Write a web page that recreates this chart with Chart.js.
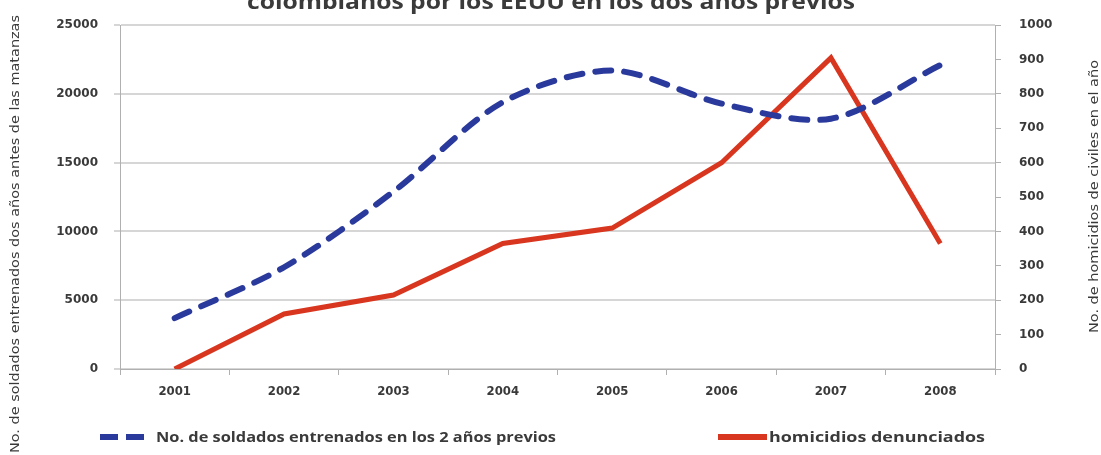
<!DOCTYPE html>
<html>
<head>
<meta charset="utf-8">
<script src="https://cdn.jsdelivr.net/npm/chart.js@4.4.0/dist/chart.umd.min.js"></script>
<style>
  body { margin: 0; background: #fff; }
  #wrap { width: 1101px; height: 455px; }
</style>
</head>
<body>
<div id="wrap"><canvas id="lineChart" width="1101" height="455"></canvas></div>
<script>
const years = ['2001', '2002', '2003', '2004', '2005', '2006', '2007', '2008'];
const soldados = [3700, 7400, 12900, 19400, 21700, 19300, 18200, 22100];
const homicidios = [0, 160, 215, 365, 410, 600, 905, 365];
const soldadosLabel = 'No. de soldados entrenados en los 2 años previos';
const homicidiosLabel = 'homicidios denunciados';
const titleText = 'colombianos por los EEUU en los dos años previos';
const leftTitle = 'No. de soldados entrenados dos años antes de las matanzas';
const rightTitle = 'No. de homicidios de civiles en el año';

const blue = '#2a3a9c';
const red = '#d8361f';
const textColor = '#3a3a3a';

// draw text stretched/squeezed to a given width
function fitText(ctx, text, x, y, width) {
  const w = ctx.measureText(text).width;
  ctx.save();
  ctx.translate(x, y);
  ctx.scale(width / w, 1);
  ctx.fillText(text, 0, 0);
  ctx.restore();
}

const extraText = {
  id: 'extraText',
  afterDraw(chart) {
    const ctx = chart.ctx;
    ctx.save();
    ctx.fillStyle = textColor;
    ctx.textBaseline = 'alphabetic';
    ctx.textAlign = 'left';

    // title (top line is cut off in the original)
    ctx.font = 'bold 22px "Open Sans"';
    fitText(ctx, titleText, 247, 9, 608);

    // left axis title, bottom to top
    ctx.save();
    ctx.translate(19, 453);
    ctx.rotate(-Math.PI / 2);
    ctx.font = '12px "DejaVu Sans Condensed"';
    fitText(ctx, leftTitle, 0, 0, 438);
    ctx.restore();

    // right axis title, bottom to top
    ctx.save();
    ctx.translate(1098, 333);
    ctx.rotate(-Math.PI / 2);
    ctx.font = '12px "DejaVu Sans Condensed"';
    fitText(ctx, rightTitle, 0, 0, 273);
    ctx.restore();

    // legend
    ctx.lineWidth = 6;
    ctx.strokeStyle = blue;
    ctx.setLineDash([18, 8]);
    ctx.beginPath();
    ctx.moveTo(100, 437);
    ctx.lineTo(145, 437);
    ctx.stroke();
    ctx.setLineDash([]);
    ctx.strokeStyle = red;
    ctx.beginPath();
    ctx.moveTo(718, 437);
    ctx.lineTo(767, 437);
    ctx.stroke();

    ctx.font = 'bold 14px "Open Sans"';
    fitText(ctx, soldadosLabel, 156, 442, 400);
    fitText(ctx, homicidiosLabel, 769, 442, 216);
    ctx.restore();
  }
};

const tickFont = { family: '"DejaVu Sans"', size: 12, weight: 'bold' };
const plain = v => String(v);

const chart = new Chart(document.getElementById('lineChart'), {
  type: 'line',
  data: {
    labels: years,
    datasets: [
      {
        label: soldadosLabel,
        data: soldados,
        yAxisID: 'y',
        borderColor: blue,
        borderWidth: 6,
        borderDash: [16, 13],
        borderCapStyle: 'round',
        tension: 0.3,
        pointRadius: 0,
        fill: false
      },
      {
        label: homicidiosLabel,
        data: homicidios,
        yAxisID: 'y1',
        borderColor: red,
        borderWidth: 5,
        tension: 0,
        pointRadius: 0,
        fill: false
      }
    ]
  },
  options: {
    responsive: false,
    animation: false,
    layout: { padding: { top: 25, left: 0, right: 0, bottom: 0 } },
    plugins: {
      legend: { display: false },
      title: { display: false },
      tooltip: { enabled: false }
    },
    scales: {
      x: {
        offset: true,
        grid: { offset: true, drawOnChartArea: false, color: '#b0b0b0', tickLength: 6 },
        border: { color: '#b0b0b0' },
        ticks: { color: textColor, font: { family: '"DejaVu Sans Condensed"', size: 13, weight: 'bold' }, padding: 9, maxRotation: 0 },
        afterFit: s => { s.height = 86; }
      },
      y: {
        position: 'left',
        min: 0,
        max: 25000,
        ticks: { stepSize: 5000, color: textColor, font: tickFont, padding: 16, callback: plain },
        grid: { color: '#d6d6d6', lineWidth: 2, tickLength: 6 },
        border: { color: '#b0b0b0' },
        afterFit: s => { s.width = 120; }
      },
      y1: {
        position: 'right',
        min: 0,
        max: 1000,
        ticks: { stepSize: 100, color: textColor, font: tickFont, padding: 18, callback: plain },
        grid: { drawOnChartArea: false, color: '#b0b0b0', tickLength: 6 },
        border: { color: '#b0b0b0' },
        afterFit: s => { s.width = 106; }
      }
    }
  },
  plugins: [extraText]
});
</script>
</body>
</html>
